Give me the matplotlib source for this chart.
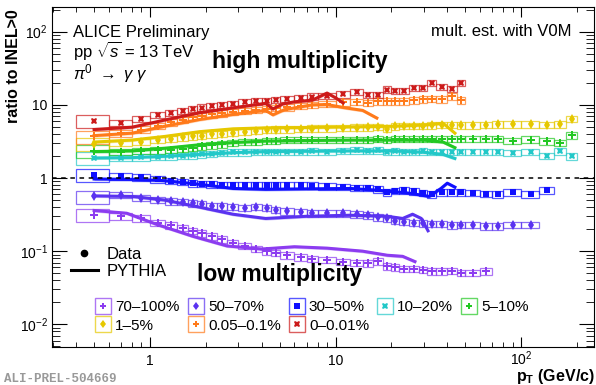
import matplotlib.pyplot as plt
import matplotlib.ticker as mticker
from matplotlib.patches import Rectangle
from matplotlib.lines import Line2D
import numpy as np

plt.rcParams['font.family'] = ['Liberation Sans', 'DejaVu Sans']
plt.rcParams['mathtext.fontset'] = 'custom'
plt.rcParams['mathtext.rm'] = 'Liberation Sans'
plt.rcParams['mathtext.it'] = 'Liberation Sans:italic'
plt.rcParams['mathtext.bf'] = 'Liberation Sans:bold'

# pT bin edges (GeV/c), shared by all classes
pt_edges = [0.4, 0.6, 0.8, 1.0, 1.2, 1.4, 1.6, 1.8, 2.0, 2.3, 2.6, 3.0, 3.5, 4.0,
            4.5, 5.0, 6.0, 7.0, 8.0, 10, 12, 14, 16, 18, 20, 22, 25, 28, 31, 35,
            40, 45, 50, 60, 70, 80, 100, 125, 150, 175, 200]

# measured ratio to INEL>0, one value per bin from the first bin on
r_70_100 = [0.315, 0.30, 0.28, 0.245, 0.225, 0.21, 0.19, 0.175, 0.16, 0.145, 0.13,
            0.118, 0.108, 0.10, 0.095, 0.088, 0.082, 0.079, 0.076, 0.072, 0.069,
            0.068, 0.073, 0.062, 0.060, 0.057, 0.057, 0.056, 0.053, 0.053, 0.054,
            0.051, 0.051, 0.053]
r_50_70 = [0.56, 0.59, 0.54, 0.50, 0.48, 0.47, 0.45, 0.44, 0.42, 0.41, 0.40, 0.39,
           0.40, 0.39, 0.37, 0.35, 0.34, 0.33, 0.33, 0.33, 0.32, 0.31, 0.29, 0.28,
           0.26, 0.25, 0.245, 0.24, 0.235, 0.235, 0.225, 0.23, 0.23, 0.218, 0.218,
           0.23, 0.23]
r_30_50 = [1.10, 1.05, 1.02, 0.96, 0.92, 0.88, 0.85, 0.83, 0.82, 0.81, 0.81, 0.81,
           0.81, 0.80, 0.81, 0.81, 0.80, 0.79, 0.77, 0.76, 0.74, 0.73, 0.70, 0.64,
           0.67, 0.68, 0.66, 0.63, 0.60, 0.64, 0.64, 0.64, 0.63, 0.61, 0.60, 0.64,
           0.60, 0.68]
r_10_20 = [1.88, 1.90, 1.92, 1.95, 1.97, 2.00, 2.05, 2.10, 2.15, 2.20, 2.25, 2.25,
           2.27, 2.27, 2.28, 2.30, 2.30, 2.32, 2.30, 2.35, 2.40, 2.35, 2.38, 2.30,
           2.32, 2.30, 2.30, 2.32, 2.30, 2.30, 2.27, 2.27, 2.27, 2.27, 2.27, 2.20,
           2.27, 2.02, 2.32, 1.98]
r_5_10 = [2.35, 2.30, 2.35, 2.40, 2.45, 2.50, 2.60, 2.70, 2.80, 2.90, 3.00, 3.10,
          3.15, 3.20, 3.25, 3.30, 3.30, 3.35, 3.35, 3.35, 3.35, 3.35, 3.40, 3.35,
          3.40, 3.40, 3.40, 3.45, 3.40, 3.40, 3.40, 3.42, 3.42, 3.42, 3.42, 3.25,
          3.36, 3.18, 3.02, 3.85]
r_1_5 = [2.90, 3.00, 3.10, 3.30, 3.45, 3.60, 3.70, 3.80, 3.95, 4.05, 4.15, 4.30,
         4.45, 4.55, 4.60, 4.65, 4.70, 4.75, 4.80, 4.85, 4.90, 4.95, 5.00, 4.70,
         5.10, 5.20, 5.20, 5.20, 5.25, 5.30, 5.30, 5.27, 5.27, 5.30, 5.40, 5.40,
         5.40, 5.35, 5.40, 6.50]
r_005_01 = [3.7, 4.1, 4.6, 5.2, 5.8, 6.3, 6.8, 7.1, 7.4, 7.7, 8.0, 8.3, 8.6, 8.9,
            9.1, 9.3, 9.6, 10.0, 10.4, 10.8, 11.0, 10.6, 11.2, 11.2, 11.2, 11.2,
            11.5, 11.9, 12.2, 11.9, 13.1, 11.5]
r_0_001 = [6.0, 5.7, 6.4, 7.3, 7.8, 8.3, 8.8, 9.2, 9.6, 10.0, 10.4, 10.8, 11.2,
           11.4, 11.6, 12.0, 12.4, 13.0, 13.4, 14.0, 15.2, 13.6, 13.8, 16.2, 15.4,
           15.5, 17.0, 17.1, 20.0, 17.5, 16.7, 20.0]

# PYTHIA curves
py_pt_70_100 = [0.5, 0.75, 1.1, 1.7, 2.6, 4.0, 6.0, 9.0, 14, 19, 23, 26.8]
py_70_100 = [0.36, 0.33, 0.23, 0.16, 0.118, 0.107, 0.115, 0.11, 0.10, 0.088, 0.085, 0.072]
py_pt_50_70 = [0.5, 0.8, 1.2, 1.85, 2.8, 4.2, 7, 12, 19, 23, 26, 29, 31.5]
py_50_70 = [0.57, 0.56, 0.50, 0.40, 0.32, 0.28, 0.30, 0.31, 0.30, 0.28, 0.32, 0.28, 0.19]
py_pt_30_50 = [0.5, 0.8, 1.2, 1.85, 2.8, 4.2, 7, 12, 17, 25, 32, 37, 40, 44]
py_30_50 = [0.97, 0.96, 0.92, 0.82, 0.72, 0.70, 0.71, 0.72, 0.68, 0.62, 0.56, 0.72, 0.85, 0.75]
py_pt_10_20 = [0.5, 0.8, 1.2, 1.85, 2.8, 4.2, 7, 12, 20, 30, 38, 44]
py_10_20 = [1.88, 1.90, 1.98, 2.10, 2.22, 2.30, 2.32, 2.35, 2.35, 2.25, 2.10, 1.85]
py_pt_5_10 = [0.5, 0.8, 1.2, 1.85, 2.8, 4.2, 7, 12, 20, 30, 38, 44]
py_5_10 = [2.30, 2.35, 2.55, 2.85, 3.05, 3.20, 3.25, 3.30, 3.30, 3.30, 3.10, 2.60]
py_pt_1_5 = [0.5, 0.8, 1.2, 1.85, 2.8, 4.2, 7, 12, 20, 30, 38, 44]
py_1_5 = [3.1, 3.3, 3.7, 4.3, 4.7, 4.85, 4.9, 5.0, 5.1, 5.3, 5.6, 4.1]
py_pt_005_01 = [0.5, 0.8, 1.2, 1.85, 2.8, 4.2, 4.6, 5.3, 7.5, 9.0, 11, 14, 16.7]
py_005_01 = [3.8, 4.1, 5.1, 6.3, 7.4, 8.4, 7.3, 8.6, 10.0, 10.1, 9.2, 8.4, 6.6]
py_pt_0_001 = [0.5, 0.8, 1.2, 1.85, 2.8, 4.2, 4.6, 5.2, 6.0, 7.5, 9.0, 10, 11]
py_0_001 = [4.6, 4.95, 6.2, 7.8, 9.1, 10.5, 8.8, 10.3, 11.0, 11.6, 14.5, 12.5, 10.6]

labels = ['70–100%', '50–70%', '30–50%', '10–20%', '5–10%', '1–5%', '0.05–0.1%', '0–0.01%']
colors = ['#8c3cf0', '#5a32f0', '#1010ff', '#22c8c8', '#22c822', '#e6c800', '#ff7a1a', '#cc1a1a']
markers = ['P', 'd', 's', 'X', 'P', 'd', 'P', 'X']
msizes = [5.5, 5, 4.5, 5, 5.5, 5, 5.5, 5]
data = [r_70_100, r_50_70, r_30_50, r_10_20, r_5_10, r_1_5, r_005_01, r_0_001]
py_x = [py_pt_70_100, py_pt_50_70, py_pt_30_50, py_pt_10_20, py_pt_5_10, py_pt_1_5,
        py_pt_005_01, py_pt_0_001]
py_y = [py_70_100, py_50_70, py_30_50, py_10_20, py_5_10, py_1_5, py_005_01, py_0_001]
sys_first = 0.2
sys_rest = 0.1
py_band = 0.05

fig = plt.figure(figsize=(5.96, 3.85), dpi=100)
ax = fig.add_axes([0.0872, 0.0987, 0.9094, 0.8833])
ax.set_xscale('log')
ax.set_yscale('log')
ax.set_xlim(0.2965, 247)
ax.set_ylim(0.0049, 218)

edges = np.array(pt_edges)
handles = []
for lab, col, mk, ms, vals, px, pv in zip(labels, colors, markers, msizes, data, py_x, py_y):
    v = np.array(vals)
    n = len(v)
    lo, hi = edges[:n], edges[1:n + 1]
    for i in range(n):
        s = sys_first if i == 0 else sys_rest
        ax.add_patch(Rectangle((lo[i], v[i] * (1 - s)), hi[i] - lo[i], v[i] * 2 * s,
                               fill=False, ec=col, lw=0.9, alpha=0.7))
    ax.plot(0.5 * (lo + hi), v, ls='none', marker=mk, ms=ms, color=col, mew=0)
    px = np.array(px)
    pv = np.array(pv)
    ax.fill_between(px, pv * (1 - py_band), pv * (1 + py_band), color=col, alpha=0.3, lw=0)
    ax.plot(px, pv, color=col, lw=2.2)
    box = Line2D([], [], ls='none', marker='s', ms=12, mfc='none', mec=col, mew=1, alpha=0.7)
    mark = Line2D([], [], ls='none', marker=mk, ms=ms * 0.9, color=col, mew=0)
    handles.append((box, mark))

ax.axhline(1, color='black', ls=(0, (3, 3)), lw=1.1)

# ticks
ax.xaxis.set_major_locator(mticker.FixedLocator([1, 10, 100]))
ax.xaxis.set_major_formatter(mticker.FixedFormatter(['1', '10', '$10^{2}$']))
ax.xaxis.set_minor_locator(mticker.LogLocator(subs=np.arange(2, 10), numticks=20))
ax.xaxis.set_minor_formatter(mticker.NullFormatter())
ax.yaxis.set_major_locator(mticker.FixedLocator([0.01, 0.1, 1, 10, 100]))
ax.yaxis.set_major_formatter(mticker.FixedFormatter(['$10^{-2}$', '$10^{-1}$', '1', '10', '$10^{2}$']))
ax.yaxis.set_minor_locator(mticker.LogLocator(subs=np.arange(2, 10), numticks=20))
ax.yaxis.set_minor_formatter(mticker.NullFormatter())
ax.tick_params(which='both', direction='in', top=True, right=True, labelsize=10)
ax.tick_params(axis='x', which='major', length=7, pad=13)
ax.tick_params(axis='x', which='minor', length=3.5)
ax.tick_params(axis='y', which='major', length=11, pad=3)
ax.tick_params(axis='y', which='minor', length=6)
for t in ax.get_xticklabels():
    t.set_verticalalignment('baseline')

fig.text(0.022, 0.975, 'ratio to INEL>0', fontsize=11.5, fontweight='bold',
         rotation=90, ha='center', va='top')
fig.text(0.998, 0.023, r'$\mathbf{p}_{\mathbf{T}}$ (GeV/$\mathbf{c}$)', fontsize=11.5,
         fontweight='bold', ha='right', va='center')

# texts
ax.text(0.039, 0.926, 'ALICE Preliminary', transform=ax.transAxes, fontsize=12, va='center')
ax.text(0.039, 0.872, r'pp $\sqrt{s}$ = 13 TeV', transform=ax.transAxes, fontsize=12, va='center')
ax.text(0.039, 0.804, r'$\pi^{0}$ $\rightarrow$ $\gamma$ $\gamma$', transform=ax.transAxes,
        fontsize=12, va='center')
ax.text(0.958, 0.929, 'mult. est. with V0M', transform=ax.transAxes, fontsize=12,
        ha='right', va='center')
ax.text(0.458, 0.841, 'high multiplicity', transform=ax.transAxes, fontsize=16.5,
        fontweight='bold', ha='center', va='center')
ax.text(0.42, 0.212, 'low multiplicity', transform=ax.transAxes, fontsize=16.5,
        fontweight='bold', ha='center', va='center')
fig.text(0.007, 0.016, 'ALI-PREL-504669', fontsize=9, color='#999999',
         family='Liberation Mono', fontweight='bold', ha='left', va='center')

# legends
leg_type = ax.legend([Line2D([], [], ls='none', marker='o', ms=4.5, color='black'),
                      Line2D([], [], color='black', lw=2.2)],
                     ['Data', 'PYTHIA'], loc='upper left', bbox_to_anchor=(0.02, 0.318),
                     frameon=False, fontsize=12, handlelength=1.6, labelspacing=0.1,
                     borderpad=0, handletextpad=0.5)
ax.add_artist(leg_type)
order = [0, 5, 1, 6, 2, 7, 3, 4]
ax.legend([handles[i] for i in order], [labels[i] for i in order], ncol=5,
          loc='upper left', bbox_to_anchor=(0.066, 0.16), frameon=False, fontsize=11,
          handlelength=1.0, handletextpad=0.3, columnspacing=0.55, labelspacing=0.28,
          borderpad=0)

fig.savefig('out.png', dpi=100)
